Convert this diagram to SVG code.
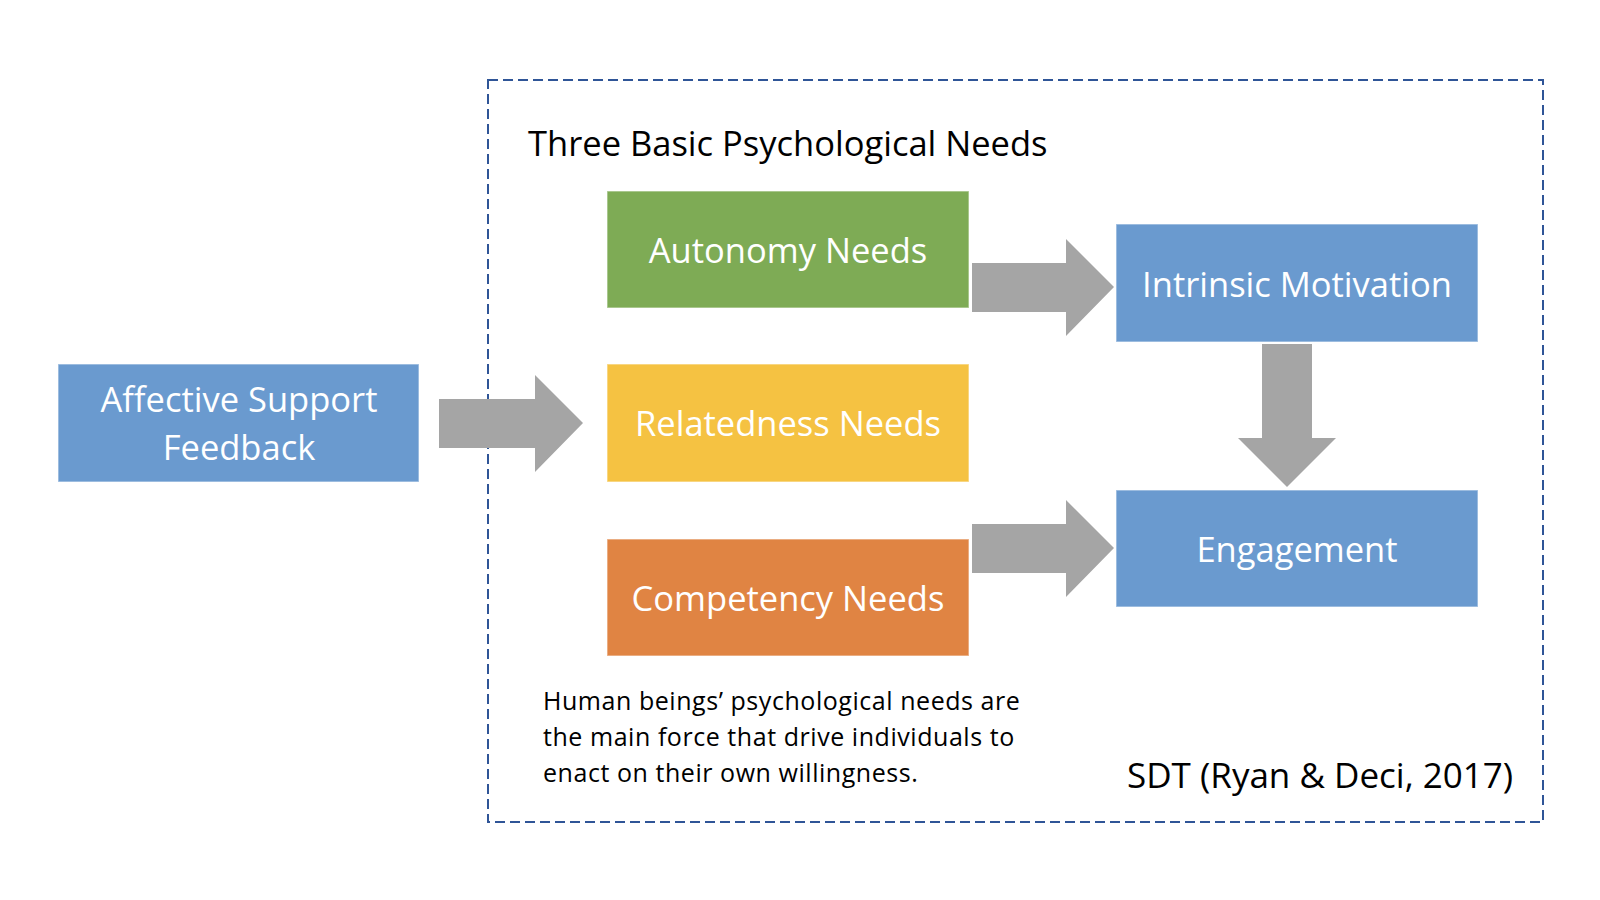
<svg xmlns="http://www.w3.org/2000/svg" width="1600" height="900" viewBox="0 0 1600 900">
  <style>
    .box { stroke: #ffffff; stroke-opacity: 0.45; stroke-width: 1.5; }
    .blue { fill: #6A9ACF; }
    .green { fill: #7EAB55; }
    .yellow { fill: #F5C242; }
    .orange { fill: #E08443; }
    .lbl { font-family: "Open Sans", "Liberation Sans", sans-serif; font-size: 34.5px; fill: #ffffff; text-anchor: middle; }
    .dark { font-family: "Open Sans", "Liberation Sans", sans-serif; fill: #000000; }
    .para { font-size: 25px; letter-spacing: 0.55px; }
    .arrow { fill: #A5A5A5; }
  </style>
  <rect x="0" y="0" width="1600" height="900" fill="#ffffff"/>

  <g id="frame">
    <rect x="488" y="80" width="1055" height="742" fill="none" stroke="#2F5597" stroke-width="2" stroke-dasharray="10 5"/>
    <text class="dark" x="528" y="155.5" font-size="34.5">Three Basic Psychological Needs</text>
    <text class="dark para" x="543" y="710">Human beings’ psychological needs are</text>
    <text class="dark para" x="543" y="746">the main force that drive individuals to</text>
    <text class="dark para" x="543" y="781.5">enact on their own willingness.</text>
    <text class="dark" x="1127" y="788" font-size="35">SDT (Ryan &amp; Deci, 2017)</text>
  </g>

  <g id="connectors">
    <polygon class="arrow" points="439,399 535,399 535,375 583,423 535,472 535,448 439,448"/>
    <polygon class="arrow" points="972,263 1066,263 1066,239 1114,287 1066,336 1066,312 972,312"/>
    <polygon class="arrow" points="972,524 1066,524 1066,500 1114,548 1066,597 1066,573 972,573"/>
    <polygon class="arrow" points="1262,344 1312,344 1312,438 1336,438 1287,487 1238,438 1262,438"/>
  </g>

  <g id="affective">
    <rect class="box blue" x="58" y="364" width="361" height="118"/>
    <text class="lbl" x="239" y="411.5">Affective Support</text>
    <text class="lbl" x="239" y="459.5">Feedback</text>
  </g>

  <g id="autonomy">
    <rect class="box green" x="607" y="191" width="362" height="117"/>
    <text class="lbl" x="788" y="262.5">Autonomy Needs</text>
  </g>

  <g id="relatedness">
    <rect class="box yellow" x="607" y="364" width="362" height="118"/>
    <text class="lbl" x="788" y="436">Relatedness Needs</text>
  </g>

  <g id="competency">
    <rect class="box orange" x="607" y="539" width="362" height="117"/>
    <text class="lbl" x="788" y="610.5">Competency Needs</text>
  </g>

  <g id="intrinsic">
    <rect class="box blue" x="1116" y="224" width="362" height="118"/>
    <text class="lbl" x="1297" y="296.5">Intrinsic Motivation</text>
  </g>

  <g id="engagement">
    <rect class="box blue" x="1116" y="490" width="362" height="117"/>
    <text class="lbl" x="1297" y="561.5">Engagement</text>
  </g>
</svg>
